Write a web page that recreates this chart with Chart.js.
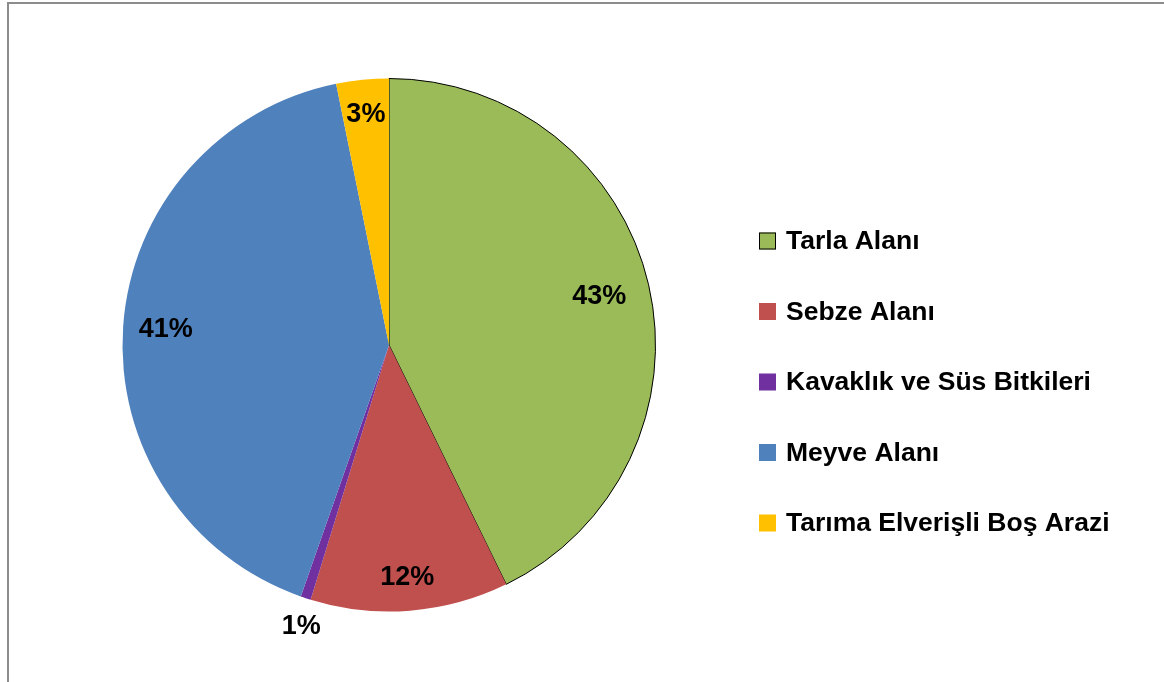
<!DOCTYPE html>
<html>
<head>
<meta charset="utf-8">
<script src="https://cdn.jsdelivr.net/npm/chart.js@4/dist/chart.umd.min.js"></script>
<style>
  html, body { margin: 0; padding: 0; background: #fff; }
  canvas { display: block; }
</style>
</head>
<body>
<canvas id="landChart" width="1164" height="682"></canvas>
<script>
// Arazi kullanım dağılımı (%)
const categories = ['Tarla Alanı', 'Sebze Alanı', 'Kavaklık ve Süs Bitkileri', 'Meyve Alanı', 'Tarıma Elverişli Boş Arazi'];
const shares = [42.75, 12.0, 0.62, 41.45, 3.18];
const sliceColors = ['#9BBB59', '#C0504D', '#7030A0', '#4F81BD', '#FFC000'];

const FONT = "'Liberation Sans', Arial, sans-serif";

// how far out (fraction of radius) each percentage label sits
const labelDist = [0.81, 0.875, 1.105, 0.84, 0.87];

// white background + the grey frame along the top and left edges
const framePlugin = {
    id: 'frame',
    beforeDraw(chart) {
        const ctx = chart.ctx;
        ctx.save();
        ctx.fillStyle = '#ffffff';
        ctx.fillRect(0, 0, chart.width, chart.height);
        ctx.fillStyle = '#8c8c8c';
        ctx.fillRect(7, 2, chart.width - 7, 2);
        ctx.fillRect(7, 2, 2, chart.height - 2);
        ctx.restore();
    }
};

// percentage labels placed on each slice
const pctLabels = {
    id: 'pctLabels',
    afterDatasetsDraw(chart) {
        const ctx = chart.ctx;
        const meta = chart.getDatasetMeta(0);
        const values = chart.data.datasets[0].data;
        const total = values.reduce((a, b) => a + b, 0);
        ctx.save();
        ctx.font = 'bold 27px ' + FONT;
        ctx.fillStyle = '#000';
        ctx.textAlign = 'center';
        ctx.textBaseline = 'middle';
        meta.data.forEach((arc, i) => {
            const p = arc.getProps(['x', 'y', 'startAngle', 'endAngle', 'outerRadius'], true);
            let mid = (p.startAngle + p.endAngle) / 2;
            const pct = values[i] / total * 100;
            if (pct < 2) mid -= 0.015;
            const x = p.x + Math.cos(mid) * p.outerRadius * labelDist[i];
            const y = p.y + Math.sin(mid) * p.outerRadius * labelDist[i];
            ctx.fillText(Math.round(pct) + '%', x, y);
        });
        ctx.restore();
    }
};

// legend on the right
const sideLegend = {
    id: 'sideLegend',
    afterDraw(chart) {
        const ctx = chart.ctx;
        const ds = chart.data.datasets[0];
        ctx.save();
        ctx.font = 'bold 26.5px ' + FONT;
        ctx.textBaseline = 'middle';
        ctx.textAlign = 'left';
        chart.data.labels.forEach((label, i) => {
            const y = 241 + i * 70.5;
            ctx.fillStyle = ds.backgroundColor[i];
            ctx.fillRect(759, y - 8.5, 17, 17);
            if (i === 0) {
                ctx.strokeStyle = '#000';
                ctx.lineWidth = 1;
                ctx.strokeRect(759.5, y - 8, 16, 16);
            }
            ctx.fillStyle = '#000';
            ctx.fillText(label, 786, y + 1);
        });
        ctx.restore();
    }
};

new Chart(document.getElementById('landChart'), {
    type: 'pie',
    data: {
        labels: categories,
        datasets: [{
            data: shares,
            backgroundColor: sliceColors,
            borderColor: ['#000', 'rgba(0,0,0,0)', 'rgba(0,0,0,0)', 'rgba(0,0,0,0)', 'rgba(0,0,0,0)'],
            borderWidth: [1, 0, 0, 0, 0],
            hoverOffset: 0
        }]
    },
    options: {
        responsive: false,
        animation: false,
        layout: {
            padding: { left: 18, right: 404, top: 78, bottom: 70 }
        },
        plugins: {
            legend: { display: false },
            tooltip: { enabled: false }
        }
    },
    plugins: [framePlugin, pctLabels, sideLegend]
});
</script>
</body>
</html>
